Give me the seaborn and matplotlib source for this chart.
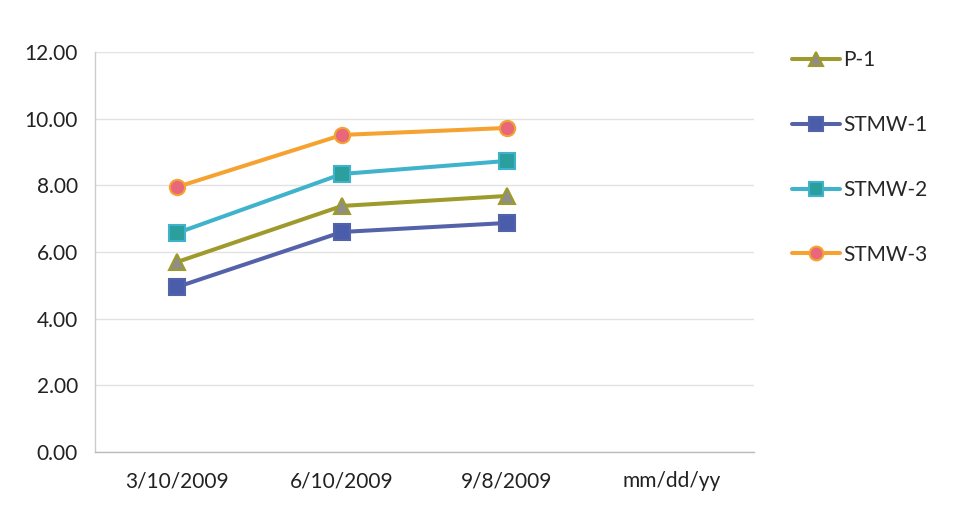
import matplotlib
matplotlib.use("Agg")
import matplotlib.pyplot as plt
import seaborn as sns
import pandas as pd
import numpy as np
from matplotlib.ticker import FormatStrFormatter, FixedLocator

categories = ["3/10/2009", "6/10/2009", "9/8/2009", "mm/dd/yy"]
dates = ["3/10/2009", "6/10/2009", "9/8/2009"]
series_names = ["P-1", "STMW-1", "STMW-2", "STMW-3"]
p1 = [5.70, 7.38, 7.68]
stmw1 = [4.95, 6.60, 6.87]
stmw2 = [6.57, 8.34, 8.73]
stmw3 = [7.95, 9.51, 9.72]

values = {"P-1": p1, "STMW-1": stmw1, "STMW-2": stmw2, "STMW-3": stmw3}
rows = []
for name in series_names:
    for d, v in zip(dates, values[name]):
        rows.append({"series": name, "date": d, "pos": categories.index(d), "value": v})
df = pd.DataFrame(rows)

sns.set_theme(style="white")
plt.rcParams['font.family'] = ['Lato', 'DejaVu Sans']

line_colors = {"P-1": "#9E9A2C", "STMW-1": "#5462AA", "STMW-2": "#3FB2CC", "STMW-3": "#F5A231"}
marker_face = {"P-1": "#8E8E86", "STMW-1": "#4A5DAA", "STMW-2": "#2B9E9E", "STMW-3": "#E8677A"}
marker_shape = {"P-1": "^", "STMW-1": "s", "STMW-2": "s", "STMW-3": "o"}

fig = plt.figure(figsize=(9.57, 5.19), dpi=100)
ax = fig.add_axes([0.099, 0.129, 0.689, 0.771])

for name in series_names:
    sub = df[df.series == name]
    sns.lineplot(data=sub, x="pos", y="value", ax=ax, color=line_colors[name],
                 linewidth=2.9, marker=marker_shape[name], markersize=11,
                 markerfacecolor=marker_face[name], markeredgecolor=line_colors[name],
                 markeredgewidth=1.5, label=name)

ax.set_xlim(-0.5, 3.5)
ax.set_ylim(0, 12)
ax.set_yticks(np.arange(0, 12.01, 2))
ax.yaxis.set_major_formatter(FormatStrFormatter("%.2f"))
ax.set_xticks(range(len(categories)))
ax.set_xticklabels(categories)
ax.xaxis.set_minor_locator(FixedLocator(np.arange(-0.5, 3.6, 1)))
ax.tick_params(axis="x", which="major", length=0, pad=14, labelsize=15, colors="#222222")
ax.tick_params(axis="x", which="minor", length=6, color="#BBBBBB", width=1, direction="out")
ax.tick_params(axis="y", length=0, pad=12, labelsize=15, colors="#222222")
ax.set_xlabel("")
ax.set_ylabel("")
ax.grid(axis="y", color="#E2E2E2", linewidth=1)
for s in ["top", "right"]:
    ax.spines[s].set_visible(False)
ax.spines["left"].set_color("#CCCCCC")
ax.spines["bottom"].set_color("#BBBBBB")
ax.spines["left"].set_linewidth(1)
ax.spines["bottom"].set_linewidth(1)

leg = ax.legend(loc="upper left", bbox_to_anchor=(1.045, 1.025), frameon=False,
                fontsize=15, handlelength=2.3, labelspacing=2.15, handletextpad=0.15,
                borderaxespad=0, markerscale=0.9)

fig.savefig("out.png", dpi=100, facecolor="white")
